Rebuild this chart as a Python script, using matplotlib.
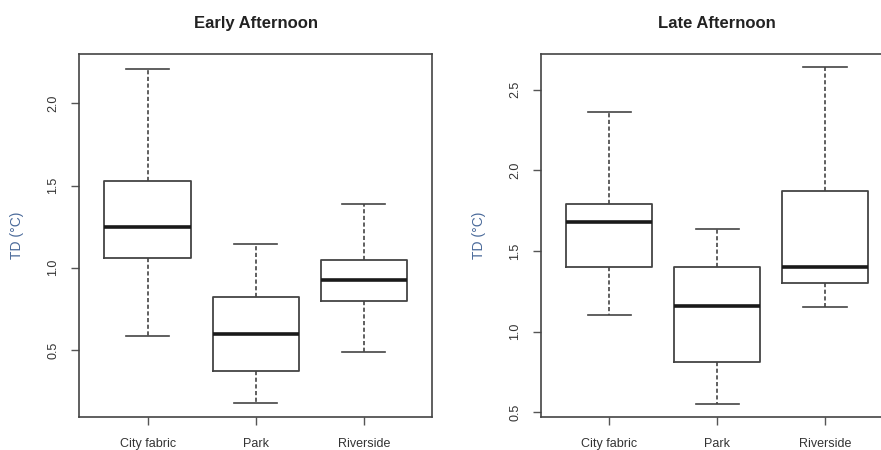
import numpy as np
import matplotlib
matplotlib.use('Agg')
from matplotlib import pyplot as plt

categories = ['City fabric', 'Park', 'Riverside']

# early afternoon: lower whisker, Q1, median, Q3, upper whisker
early_low = [0.585, 0.175, 0.486]
early_q1 = [1.059, 0.370, 0.800]
early_med = [1.247, 0.598, 0.928]
early_q3 = [1.527, 0.820, 1.045]
early_high = [2.21, 1.146, 1.390]

# late afternoon
late_low = [1.100, 0.552, 1.152]
late_q1 = [1.399, 0.810, 1.300]
late_med = [1.677, 1.160, 1.399]
late_q3 = [1.790, 1.400, 1.873]
late_high = [2.361, 1.635, 2.637]

plt.rcParams['font.family'] = ['Liberation Sans', 'DejaVu Sans']

fig = plt.figure(figsize=(8.81, 4.5), dpi=100)
W, H = 881.0, 450.0

def make_stats(low, q1, med, q3, high):
	stats = []
	for i in range(len(categories)):
		stats.append({'whislo': low[i], 'q1': q1[i], 'med': med[i], 'q3': q3[i],
			'whishi': high[i], 'fliers': [], 'label': categories[i]})
	return stats

def draw_panel(rect, stats, title, yticks, ylim, xlim, ylabel_x):
	ax = fig.add_axes(rect)
	edge = '#444444'
	ax.bxp(stats, positions=[1, 2, 3], widths=0.8, showfliers=False,
		boxprops=dict(color=edge, linewidth=1.3),
		medianprops=dict(color='#1a1a1a', linewidth=2.6),
		whiskerprops=dict(color=edge, linewidth=1.2, linestyle=(0, (2.5, 1.5))),
		capprops=dict(color=edge, linewidth=1.2))
	ax.set_xlim(*xlim)
	ax.set_ylim(*ylim)
	ax.set_yticks(yticks)
	ax.set_yticklabels(['{:.1f}'.format(v) for v in yticks], rotation=90, va='center')
	ax.set_xticks([1, 2, 3])
	ax.set_xticklabels(categories)
	ax.tick_params(axis='both', length=6, width=1, color='#555555', labelsize=9, labelcolor='#333333')
	ax.tick_params(axis='y', pad=8)
	ax.tick_params(axis='x', pad=9)
	for s in ax.spines.values():
		s.set_color('#444444')
		s.set_linewidth(1.2)
	ax.set_title(title, fontsize=12, fontweight='bold', color='#222222', pad=19)
	ax.set_ylabel('TD (°C)', fontsize=10, color='#4a6a9a')
	ax.yaxis.set_label_coords(ylabel_x, 0.5)
	return ax

left_rect = [79 / W, 1 - 417 / H, (432 - 79) / W, (417 - 54) / H]
right_rect = [541 / W, 1 - 417 / H, (893 - 541) / W, (417 - 54) / H]

draw_panel(left_rect, make_stats(early_low, early_q1, early_med, early_q3, early_high),
	'Early Afternoon', [0.5, 1.0, 1.5, 2.0], (0.092, 2.30), (0.364, 3.632), -55 / 353.0)
draw_panel(right_rect, make_stats(late_low, late_q1, late_med, late_q3, late_high),
	'Late Afternoon', [0.5, 1.0, 1.5, 2.0, 2.5], (0.471, 2.72), (0.367, 3.63), -55 / 352.0)

fig.savefig('out.png', dpi=100)
